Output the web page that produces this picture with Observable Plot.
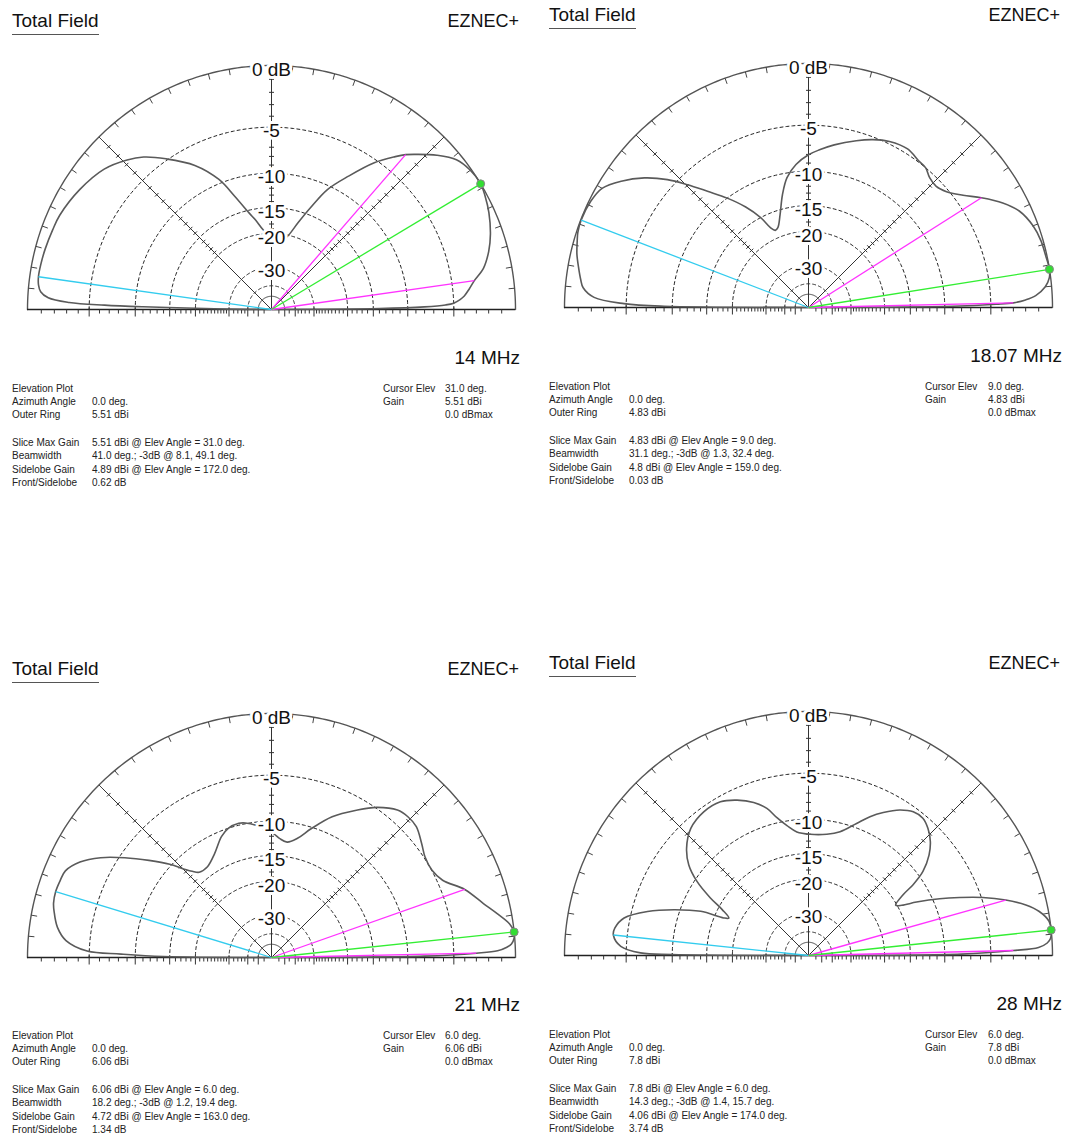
<!DOCTYPE html>
<html><head><meta charset="utf-8">
<script src="https://cdn.jsdelivr.net/npm/d3@7"></script>
<script src="https://cdn.jsdelivr.net/npm/@observablehq/plot@0.6"></script>
<style>
body{margin:0;background:#fff;}
#root{position:relative;width:1065px;height:1140px;overflow:hidden;background:#fff;font-family:Arial,"Liberation Sans",sans-serif;color:#111;}
.t{position:absolute;white-space:nowrap;}
</style></head><body><div id="root"></div>
<script>
// ---------------- DATA ----------------
const freqs = ["14 MHz", "18.07 MHz", "21 MHz", "28 MHz"];
const azimuth = ["0.0", "0.0", "0.0", "0.0"];
const outerRing = ["5.51", "4.83", "6.06", "7.8"];
const maxGain = ["5.51", "4.83", "6.06", "7.8"];
const cursorElev = [31.0, 9.0, 6.0, 6.0];
const beamwidth = [41.0, 31.1, 18.2, 14.3];
const bwLow = [8.1, 1.3, 1.2, 1.4];
const bwHigh = [49.1, 32.4, 19.4, 15.7];
const sideGain = ["4.89", "4.8", "4.72", "4.06"];
const sideAngle = [172.0, 159.0, 163.0, 174.0];
const frontSide = [0.62, 0.03, 1.34, 3.74];
const ringDb = [-5, -10, -15, -20, -30];
const ringLabels = ["-5", "-10", "-15", "-20", "-30"];

// elevation patterns: angle (deg) and relative gain (dB)
const ang14 = [0,0.5,1,1.5,2,3,4,6,8.1,11,15,19,24,28,31,35,39,43,47,49.1,51,55,60,65,69,73,77,81,85,90,96,100,103,108,112,118,125,130,134,140,148,156,160,165,169,172,174,175.6,177,178,178.5,178.8,179.1,179.5,180];
const db14  = [-99,-14,-8,-5.8,-5.0,-4.4,-4.0,-3.5,-3.0,-2.1,-1.4,-0.9,-0.43,-0.15,0,-0.09,-0.43,-1.3,-2.4,-3.0,-3.7,-5.3,-7.9,-10.5,-13.8,-17,-19.9,-21.5,-22,-21,-19.1,-17,-15.5,-12.3,-9.5,-6.9,-4.85,-3.5,-2.75,-1.9,-1.3,-0.88,-0.8,-0.7,-0.64,-0.62,-0.7,-0.9,-1.5,-3.2,-6.5,-11,-20,-30,-99];

const ang18 = [0,0.5,1,1.3,2,3,5,7,9,12,16,20,24.6,28.3,32.4,36,40,43.5,47,50,53,58,64,69,74,81,86,90,95,99.4,103,107,111,113.3,115.5,118,122,126.6,131,134.6,137.8,141.7,146,150,154,159,162,164,167,170,173,175,177.3,178.8,179.5,180];
const db18  = [-99,-9,-4.5,-3,-2.0,-1.2,-0.45,-0.1,0,-0.08,-0.15,-0.36,-0.88,-1.73,-3.0,-4.2,-5.2,-5.6,-5.45,-5.0,-4.9,-4.57,-4.78,-5.24,-5.85,-6.75,-7.45,-8.04,-9.1,-10.6,-12.8,-15.8,-18.0,-18.3,-17.4,-15.0,-12.4,-10.0,-7.9,-5.95,-4.26,-2.65,-1.32,-0.4,-0.12,-0.03,-0.1,-0.24,-0.45,-0.75,-1.05,-1.3,-2.2,-4.8,-9,-99];

const ang21 = [0,0.5,1.2,1.7,2.5,3.2,4.5,6,8,10.9,14.2,19.4,24.3,28.5,33.2,37.2,42.1,45.9,49.5,55,60,66.7,72.9,77.7,82.3,86,89.2,93.8,96.7,101,103.7,108.5,112.5,118.7,125.2,130.3,132.6,134.8,137.5,141.6,145.8,149.7,153.5,157.2,160,163,166,168,172,175.3,178,178.7,179.5,180];
const db21  = [-99,-8,-3,-1.3,-0.6,-0.26,-0.05,0,-0.25,-1.0,-1.86,-3.0,-4.5,-4.97,-4.89,-4.43,-3.83,-3.76,-3.94,-4.91,-6.19,-7.98,-10.2,-11.9,-12.7,-12.3,-11.6,-10.9,-10.4,-9.9,-9.77,-10.0,-10.7,-12.4,-13.5,-13.4,-12.6,-11.5,-9.77,-7.64,-5.47,-3.6,-2.25,-1.5,-1.4,-1.34,-1.42,-1.6,-2.08,-2.89,-4.8,-8.3,-14,-99];

const ang28 = [0,0.5,1.4,2,3,4,6,8.1,10.8,13.1,15.7,18.4,21,23.4,26.3,28.3,30,32.7,34.1,36.3,39.8,43.1,46.8,50.2,53.9,57.9,62.4,66.1,70,75.7,81.4,89.2,95.4,99.4,102.9,105.8,109.7,114.7,119.8,126.1,132.8,138.7,142.9,146.4,149.6,152,154.8,156.1,157.7,161.2,164.7,168.5,171.9,174,177.2,179.1,179.6,180];
const db28  = [-99,-8,-3,-1.0,-0.35,-0.1,0,-0.07,-0.65,-1.53,-3.0,-4.87,-7.05,-9.18,-12.1,-14.3,-15.2,-13.3,-11.3,-9.29,-7.58,-6.52,-5.76,-5.35,-5.43,-6.02,-7.1,-8.15,-9.47,-11.1,-11.8,-12.0,-11.6,-10.6,-9.37,-8.03,-6.97,-6.1,-5.49,-5.43,-5.88,-7.0,-8.34,-10.3,-13.1,-15.7,-17.5,-16.6,-12.7,-9.29,-6.52,-4.46,-3.8,-3.74,-4.48,-6.4,-10,-99];

const patternAngles = [ang14, ang18, ang21, ang28];
const patternDb = [db14, db18, db21, db28];

// ---------------- LAYOUT ----------------
const R = 244;
const layout = [
  {cx:271, cy:309, tx:12,  ex:519,  titleB:27,  freqX:520,  freqB:364,  infoB:392,  c1:12,  c2:92,  c3:383, c4:445},
  {cx:808, cy:307, tx:549, ex:1060, titleB:21,  freqX:1062, freqB:362,  infoB:390,  c1:549, c2:629, c3:925, c4:988},
  {cx:271, cy:957, tx:12,  ex:519,  titleB:675, freqX:520,  freqB:1011, infoB:1039, c1:12,  c2:92,  c3:383, c4:445},
  {cx:808, cy:955, tx:549, ex:1060, titleB:669, freqX:1062, freqB:1010, infoB:1038, c1:549, c2:629, c3:925, c4:988}
];
const lineOff = [0, 13.3, 26.6, 54.5, 67.8, 81.1, 94.4];

const root = document.getElementById("root");
function txt(s, x, base, size, opts = {}) {
  const d = document.createElement("div");
  d.className = "t";
  d.textContent = s;
  d.style.fontSize = size + "px";
  d.style.lineHeight = size + "px";
  d.style.top = (base - 0.8465 * size) + "px";
  if (opts.anchor === "end") d.style.right = (1065 - x) + "px"; else d.style.left = x + "px";
  if (opts.color) d.style.color = opts.color;
  if (opts.underline) { d.style.borderBottom = "1.5px solid #555"; d.style.paddingBottom = "4px"; }
  root.appendChild(d);
  return d;
}

const rOf = db => Math.pow(0.89, -db / 2);
const rad = a => a * Math.PI / 180;
const pol = (r, a) => ({x: r * Math.cos(rad(a)), y: r * Math.sin(rad(a))});

function arc(r, key) {
  const pts = [];
  for (let a = 0; a <= 180; a += 1) pts.push({...pol(r, a), key});
  return pts;
}

function drawPanel(i) {
  const L = layout[i];
  const u = 1 / R;
  const W = 540, H = 300, px = 270, py = 280;

  // grid geometry
  const outer = arc(1, "outer");
  const rings = ringDb.concat([-40]).flatMap(d => arc(rOf(d), d));
  const inner = arc(rOf(-50), "inner");
  const radials = [45, 90, 135].map(a => { const p = pol(1, a); return {x1: 0, y1: 0, x2: p.x, y2: p.y}; });
  const radTicks = [];
  for (const a of [45, 90, 135]) {
    for (let d = 1; d <= 20; d++) {
      if (d % 5 === 0) continue;
      const p = pol(rOf(-d), a);
      const nx = -Math.sin(rad(a)) * 2.5 * u, ny = Math.cos(rad(a)) * 2.5 * u;
      radTicks.push({x1: p.x - nx, y1: p.y - ny, x2: p.x + nx, y2: p.y + ny});
    }
  }
  const outerTicks = [];
  for (let a = 5; a < 180; a += 5) {
    const p = pol(1, a), q = pol(1 - 6 * u, a);
    outerTicks.push({x1: p.x, y1: p.y, x2: q.x, y2: q.y});
  }
  const baseDb = [];
  for (let d = 1; d <= 30; d++) baseDb.push(d);
  baseDb.push(32, 34, 36, 38, 40, 45, 50, 60);
  const longDb = new Set([5, 10, 15, 20, 30, 40, 50]);
  const baseTicks = [];
  for (const s of [-1, 1]) for (const d of baseDb) {
    const x = s * rOf(-d);
    const long = longDb.has(d);
    baseTicks.push({x1: x, x2: x, y1: long ? 2 * u : 0, y2: long ? -7 * u : -4 * u});
  }

  // pattern from data
  const pattern = patternAngles[i].map((a, k) => pol(rOf(patternDb[i][k]), a));

  // indicator lines from data
  const cyanEnd = pol(rOf(-frontSide[i]), sideAngle[i]);
  const magEnds = [bwLow[i], bwHigh[i]].map(a => pol(rOf(-3), a));
  const greenEnd = pol(1, cursorElev[i]);

  const labels = [{x: 0, y: 1, t: "0 dB"}].concat(ringDb.map((d, k) => ({x: 0, y: rOf(d), t: ringLabels[k]})));

  const svg = Plot.plot({
    width: W, height: H,
    marginTop: 0, marginRight: 0, marginBottom: 0, marginLeft: 0,
    x: {domain: [-1, 1], range: [px - R, px + R], axis: null},
    y: {domain: [0, 1], range: [py, py - R], axis: null},
    style: {background: "transparent", overflow: "visible"},
    marks: [
      Plot.line(rings, {x: "x", y: "y", z: "key", stroke: "#222", strokeWidth: 1, strokeDasharray: "3,3"}),
      Plot.line(inner, {x: "x", y: "y", stroke: "#333", strokeWidth: 1}),
      Plot.link(radials, {x1: "x1", y1: "y1", x2: "x2", y2: "y2", stroke: "#333", strokeWidth: 1}),
      Plot.link(radTicks, {x1: "x1", y1: "y1", x2: "x2", y2: "y2", stroke: "#333", strokeWidth: 1}),
      Plot.line(outer, {x: "x", y: "y", stroke: "#555", strokeWidth: 1.4}),
      Plot.link(outerTicks, {x1: "x1", y1: "y1", x2: "x2", y2: "y2", stroke: "#444", strokeWidth: 1}),
      Plot.ruleY([0], {x1: -1, x2: 1, stroke: "#222", strokeWidth: 1.3}),
      Plot.link(baseTicks, {x1: "x1", y1: "y1", x2: "x2", y2: "y2", stroke: "#333", strokeWidth: 1}),
      Plot.line(pattern, {x: "x", y: "y", stroke: "#5a5a5a", strokeWidth: 1.6, curve: "catmull-rom"}),
      Plot.link([cyanEnd], {x1: 0, y1: 0, x2: "x", y2: "y", stroke: "#33ccee", strokeWidth: 1.3}),
      Plot.link(magEnds, {x1: 0, y1: 0, x2: "x", y2: "y", stroke: "#ff33ff", strokeWidth: 1.3}),
      Plot.link([greenEnd], {x1: 0, y1: 0, x2: "x", y2: "y", stroke: "#33ee33", strokeWidth: 1.3}),
      Plot.dot([greenEnd], {x: "x", y: "y", r: 4, fill: "#33dd33", stroke: "#888", strokeWidth: 1}),
      Plot.text(labels, {x: "x", y: "y", text: "t", dy: 4, fontSize: 19, fill: "#111", stroke: "white", strokeWidth: 6, fontFamily: "Arial, 'Liberation Sans', sans-serif"})
    ]
  });
  svg.style.position = "absolute";
  svg.style.left = (L.cx - px) + "px";
  svg.style.top = (L.cy - py) + "px";
  root.appendChild(svg);

  // texts
  txt("Total Field", L.tx, L.titleB, 19, {underline: true});
  txt("EZNEC+", L.ex, L.titleB, 18, {anchor: "end"});
  txt(freqs[i], L.freqX, L.freqB, 19, {anchor: "end"});
  const left = [
    ["Elevation Plot", ""],
    ["Azimuth Angle", azimuth[i] + " deg."],
    ["Outer Ring", outerRing[i] + " dBi"],
    ["Slice Max Gain", `${maxGain[i]} dBi @ Elev Angle = ${cursorElev[i].toFixed(1)} deg.`],
    ["Beamwidth", `${beamwidth[i].toFixed(1)} deg.; -3dB @ ${bwLow[i]}, ${bwHigh[i]} deg.`],
    ["Sidelobe Gain", `${sideGain[i]} dBi @ Elev Angle = ${sideAngle[i].toFixed(1)} deg.`],
    ["Front/Sidelobe", `${frontSide[i].toFixed(2)} dB`]
  ];
  left.forEach((row, k) => {
    txt(row[0], L.c1, L.infoB + lineOff[k], 10, {color: "#222"});
    if (row[1]) txt(row[1], L.c2, L.infoB + lineOff[k], 10, {color: "#222"});
  });
  const right = [["Cursor Elev", cursorElev[i].toFixed(1) + " deg."], ["Gain", maxGain[i] + " dBi"], ["", "0.0 dBmax"]];
  right.forEach((row, k) => {
    if (row[0]) txt(row[0], L.c3, L.infoB + lineOff[k], 10, {color: "#222"});
    txt(row[1], L.c4, L.infoB + lineOff[k], 10, {color: "#222"});
  });
}

for (let i = 0; i < 4; i++) drawPanel(i);
</script></body></html>
